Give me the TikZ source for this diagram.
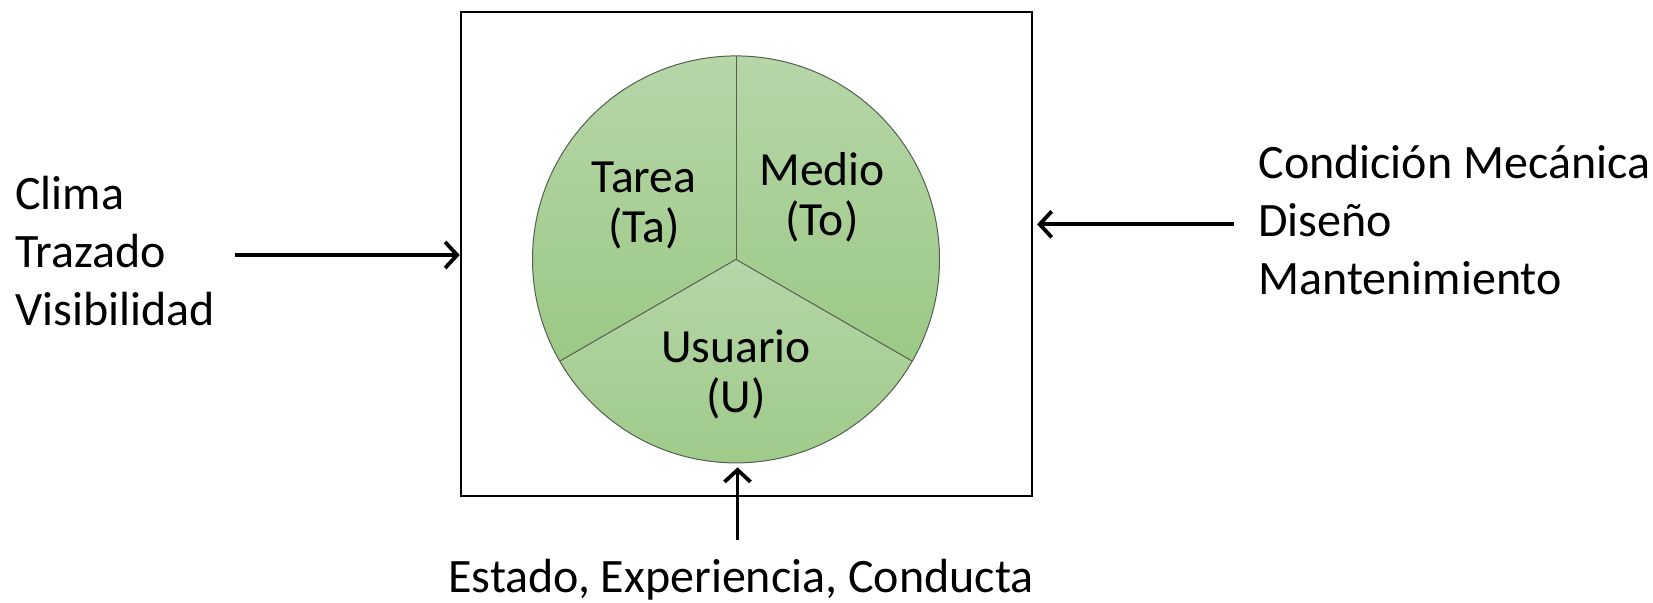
\documentclass[tikz,border=0pt]{standalone}
\usepackage{fontspec}
\setmainfont{Carlito}
\usetikzlibrary{arrows.meta}
\definecolor{gtop}{RGB}{182,214,168}
\definecolor{gbot}{RGB}{155,201,133}
\definecolor{edgec}{RGB}{85,95,80}
\begin{document}
\begin{tikzpicture}[x=0.5pt,y=-0.5pt,
  txt/.style={font=\fontsize{24pt}{29pt}\selectfont, inner sep=0pt, align=left},
  intxt/.style={font=\fontsize{23.8pt}{25pt}\selectfont, inner sep=0pt, align=center},
  arr/.style={line width=1.9pt, -{Straight Barb[length=6pt,width=13pt,line width=1.9pt]}},
  sector/.style={top color=gtop, bottom color=gbot},
  secedge/.style={draw=edgec, line width=0.5pt}]
\useasboundingbox (0,0) rectangle (1653,602);
% box
\node (box) [draw, line width=1pt, rectangle, inner sep=0pt, minimum width=285.7pt, minimum height=242.2pt] at (746.4,253.8) {};
% circle
\coordinate (C) at (736,259.4);
\node (circ) [circle, inner sep=0pt, minimum size=203.5pt] at (C) {};
\shade[sector] (C) -- ++(90:101.75pt) arc[start angle=90, end angle=210, radius=101.75pt] -- cycle;
\shade[sector] (C) -- ++(210:101.75pt) arc[start angle=210, end angle=330, radius=101.75pt] -- cycle;
\shade[sector] (C) -- ++(-30:101.75pt) arc[start angle=-30, end angle=90, radius=101.75pt] -- cycle;
\draw[secedge] (C) circle[radius=101.75pt];
\draw[secedge] (C) -- ++(90:101.75pt);
\draw[secedge] (C) -- ++(210:101.75pt);
\draw[secedge] (C) -- ++(-30:101.75pt);
% sector labels (base anchor = last line)
\node (tarea) [intxt, anchor=base] at (644,242) {Tarea\\(Ta)};
\node (medio) [intxt, anchor=base] at (822,235) {Medio\\(To)};
\node (usuario) [intxt, anchor=base] at (736,412.5) {Usuario\\(U)};
% outside texts
\node (left) [txt, anchor=base west] at (15,325) {Clima\\Trazado\\Visibilidad};
\node (right) [txt, anchor=base west] at (1258,294) {Condición Mecánica\\Diseño\\Mantenimiento};
\node (bottom) [txt, anchor=base] at (741,592) {Estado, Experiencia, Conducta};
% arrows
\coordinate (lin) at (235,255);
\coordinate (rin) at (1234,224.3);
\coordinate (bin) at (737.5,540);
\draw[arr] (lin) -- (lin -| box.west);
\draw[arr, shorten >=2pt] (rin) -- (rin -| box.east);
\draw[arr, shorten >=2pt] (bin) -- (bin |- circ.south);
\end{tikzpicture}
\end{document}
